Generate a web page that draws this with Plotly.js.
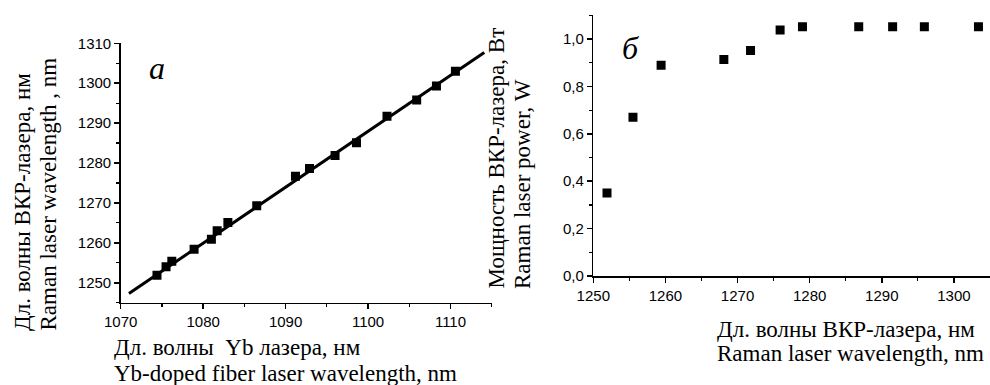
<!DOCTYPE html>
<html>
<head>
<meta charset="utf-8">
<script src="https://cdn.plot.ly/plotly-3.0.1.min.js"></script>
<style>html,body{margin:0;padding:0;background:#fff}#chart{width:990px;height:385px}</style>
</head>
<body>
<div id="chart"></div>
<script>
// Panel a: Yb laser wavelength vs Raman laser wavelength
const ybWavelength = [1074.4, 1075.5, 1076.2, 1078.9, 1081.0, 1081.7, 1083.0, 1086.5, 1091.2, 1092.9, 1096.0, 1098.6, 1102.3, 1105.9, 1108.3, 1110.6];
const ramanWavelengthA = [1251.9, 1254.0, 1255.4, 1258.4, 1260.9, 1263.0, 1265.1, 1269.3, 1276.7, 1278.6, 1281.9, 1285.1, 1291.7, 1295.8, 1299.3, 1303.0];
// Linear fit line endpoints
const fitX = [1071.0, 1114.1];
const fitY = [1247.3, 1307.7];
// Panel б: Raman laser wavelength vs output power
const ramanWavelengthB = [1251.9, 1255.5, 1259.4, 1268.1, 1271.8, 1275.9, 1279.0, 1286.8, 1291.5, 1295.9, 1303.4];
const ramanPower = [0.350, 0.670, 0.889, 0.914, 0.952, 1.038, 1.052, 1.052, 1.052, 1.052, 1.052];

const xTicksA = [1070, 1080, 1090, 1100, 1110];
const yTicksA = [1250, 1260, 1270, 1280, 1290, 1300, 1310];
const xTicksB = [1250, 1260, 1270, 1280, 1290, 1300];
const yTicksB = [0, 0.2, 0.4, 0.6, 0.8, 1.0];

const W = 990, H = 385;
const px = v => v / W;
const py = v => (H - v) / H;

const tickFont = {family: "'Liberation Sans', Arial, sans-serif", size: 15, color: '#000'};
const serif = "'Liberation Serif', 'Times New Roman', serif";

const axisBase = {
  showline: true, linecolor: '#000', linewidth: 1.5,
  ticks: 'outside', ticklen: 5, tickwidth: 1.5, tickcolor: '#000',
  showgrid: false, zeroline: false, tickfont: tickFont,
  tickmode: 'array', fixedrange: true
};

const traces = [
  {x: fitX, y: fitY, mode: 'lines', line: {color: '#000', width: 3}, xaxis: 'x', yaxis: 'y', hoverinfo: 'skip'},
  {x: ybWavelength, y: ramanWavelengthA, mode: 'markers', marker: {symbol: 'square', size: 9, color: '#000'}, xaxis: 'x', yaxis: 'y'},
  {x: ramanWavelengthB, y: ramanPower, mode: 'markers', marker: {symbol: 'square', size: 9, color: '#000'}, xaxis: 'x2', yaxis: 'y2'}
];

const ann = (text, x, y, opts) => Object.assign({
  text, x: px(x), y: py(y), xref: 'paper', yref: 'paper', showarrow: false,
  font: {family: serif, size: 23, color: '#000'}
}, opts);

const layout = {
  width: W, height: H,
  margin: {l: 0, r: 0, t: 0, b: 0},
  paper_bgcolor: '#fff', plot_bgcolor: '#fff',
  showlegend: false,
  xaxis: Object.assign({}, axisBase, {
    domain: [px(120.7), px(491.7)], range: [1070, 1115], anchor: 'y',
    tickvals: xTicksA, ticktext: xTicksA.map(String),
    minor: {tickvals: [1075, 1085, 1095, 1105, 1115], ticks: 'outside', ticklen: 3, tickwidth: 1.2, tickcolor: '#000'}
  }),
  yaxis: Object.assign({}, axisBase, {
    domain: [py(302.7), py(43.3)], range: [1245, 1310], anchor: 'x',
    tickvals: yTicksA, ticktext: yTicksA.map(String),
    minor: {tickvals: [1245, 1255, 1265, 1275, 1285, 1295, 1305], ticks: 'outside', ticklen: 3, tickwidth: 1.2, tickcolor: '#000'}
  }),
  xaxis2: Object.assign({}, axisBase, {
    domain: [px(593.3), 1.0], range: [1250, 1305], anchor: 'y2',
    tickvals: xTicksB, ticktext: xTicksB.map(String),
    minor: {tickvals: [1255, 1265, 1275, 1285, 1295], ticks: 'outside', ticklen: 3, tickwidth: 1.2, tickcolor: '#000'}
  }),
  yaxis2: Object.assign({}, axisBase, {
    domain: [py(276), py(15.3)], range: [0, 1.1], anchor: 'x2',
    tickvals: yTicksB, ticktext: yTicksB.map(v => v.toFixed(1).replace('.', ',')),
    minor: {tickvals: [0.1, 0.3, 0.5, 0.7, 0.9, 1.1], ticks: 'outside', ticklen: 3, tickwidth: 1.2, tickcolor: '#000'}
  }),
  annotations: [
    ann('<i>a</i>', 157, 68, {xanchor: 'center', yanchor: 'middle', font: {family: serif, size: 32, color: '#000'}}),
    ann('<i>б</i>', 630, 48, {xanchor: 'center', yanchor: 'middle', font: {family: serif, size: 32, color: '#000'}}),
    // left x title
    ann('Дл. волны  Yb лазера, нм', 112, 347, {xanchor: 'left', yanchor: 'middle'}),
    ann('Yb-doped fiber laser wavelength, nm', 112, 373, {xanchor: 'left', yanchor: 'middle'}),
    // left y title
    ann('Дл. волны ВКР-лазера, нм', 22, 333, {textangle: -90, xanchor: 'center', yanchor: 'bottom'}),
    ann('Raman laser wavelength , nm', 48, 333, {textangle: -90, xanchor: 'center', yanchor: 'bottom'}),
    // right y title
    ann('Мощность ВКР-лазера, Вт', 496, 291, {textangle: -90, xanchor: 'center', yanchor: 'bottom'}),
    ann('Raman laser power, W', 522, 291, {textangle: -90, xanchor: 'center', yanchor: 'bottom'}),
    // right x title
    ann('Дл. волны ВКР-лазера, нм', 715, 329, {xanchor: 'left', yanchor: 'middle'}),
    ann('Raman laser wavelength, nm', 715, 353, {xanchor: 'left', yanchor: 'middle'})
  ]
};

Plotly.newPlot('chart', traces, layout, {staticPlot: true, displayModeBar: false});
</script>
</body>
</html>
